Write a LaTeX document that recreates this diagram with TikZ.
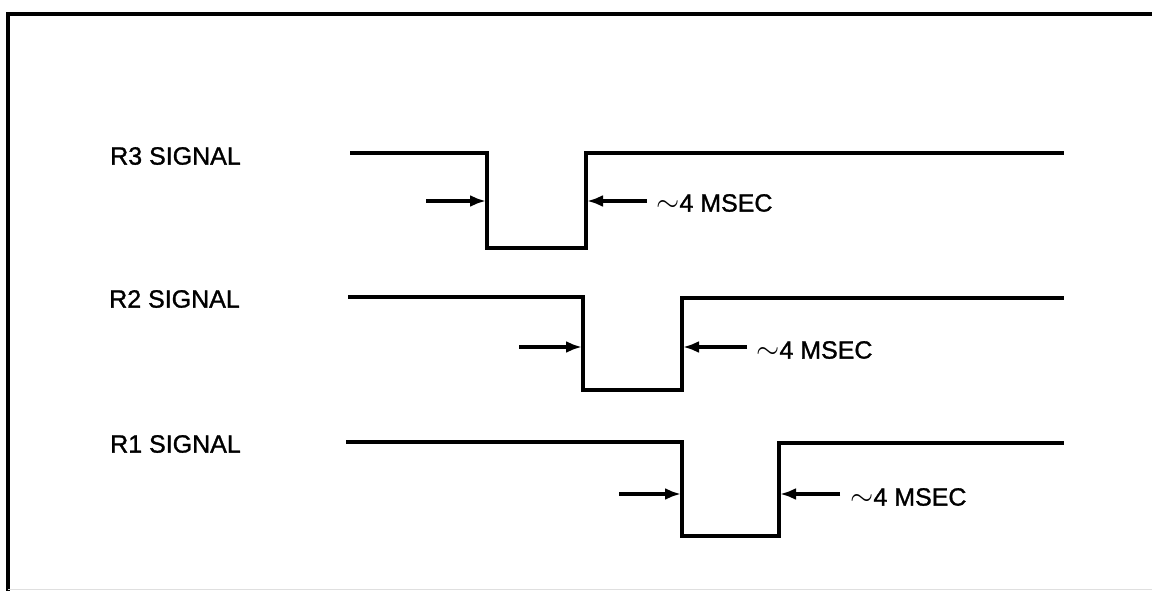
\documentclass[tikz,border=0pt]{standalone}
\usepackage{fontspec}
\setmainfont{Liberation Sans}
\newfontfamily\lblfont{Liberation Sans}[FakeBold=1.2]
\usetikzlibrary{arrows.meta}
\begin{document}
\begin{tikzpicture}[x=1pt,y=-1pt,
  wave/.style={line width=3.6pt,line join=miter},
  frameline/.style={line width=3.6pt},
  dimarrow/.style={line width=3.4pt,-{Latex[length=16pt,width=12pt]}},
  siglabel/.style={anchor=west,inner sep=0pt,font=\lblfont\fontsize{25}{30}\selectfont},
  durlabel/.style={anchor=west,inner sep=0pt,font=\lblfont\fontsize{25}{30}\selectfont}]
\useasboundingbox (0,0) rectangle (1152,591);
\fill[white] (0,0) rectangle (1152,591);
% frame
\draw[frameline] (1152,14) -- (8,14) -- (8,591);
\draw[gray!25,line width=1pt] (8,589) -- (1152,589);

% R3
\node[siglabel] (l3) at (110,156) {R3 SIGNAL};
\draw[wave] (350,153) -- (487,153) -- (487,248) -- (586,248) -- (586,153) -- (1064,153);
\coordinate (a3s) at (426,201); \coordinate (a3t) at (486,201);
\coordinate (b3s) at (647,201); \coordinate (b3t) at (587,201);
\draw[dimarrow] (a3s) -- (a3t);
\draw[dimarrow] (b3s) -- (b3t);
\node[durlabel] (t3) at (656,203) {\scalebox{1.2}{$\sim$}4 MSEC};

% R2
\node[siglabel] (l2) at (109,299) {R2 SIGNAL};
\draw[wave] (348,297) -- (583,297) -- (583,390) -- (682,390) -- (682,298) -- (1064,298);
\coordinate (a2s) at (519,347); \coordinate (a2t) at (582,347);
\coordinate (b2s) at (747,347); \coordinate (b2t) at (683,347);
\draw[dimarrow] (a2s) -- (a2t);
\draw[dimarrow] (b2s) -- (b2t);
\node[durlabel] (t2) at (756,350) {\scalebox{1.2}{$\sim$}4 MSEC};

% R1
\node[siglabel] (l1) at (110,444) {R1 SIGNAL};
\draw[wave] (346,442) -- (682,442) -- (682,536) -- (779,536) -- (779,443) -- (1064,443);
\coordinate (a1s) at (619,494); \coordinate (a1t) at (681,494);
\coordinate (b1s) at (840,494); \coordinate (b1t) at (780,494);
\draw[dimarrow] (a1s) -- (a1t);
\draw[dimarrow] (b1s) -- (b1t);
\node[durlabel] (t1) at (850,497) {\scalebox{1.2}{$\sim$}4 MSEC};
\end{tikzpicture}
\end{document}
